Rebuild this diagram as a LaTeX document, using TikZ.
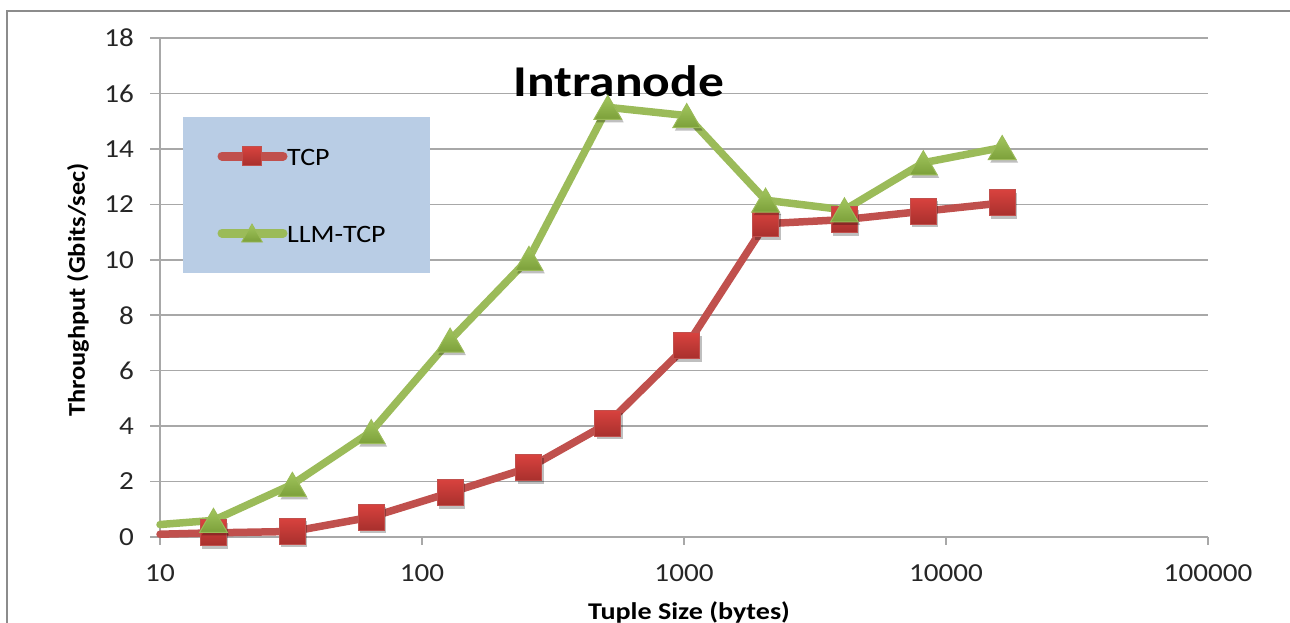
\documentclass[tikz,border=0pt]{standalone}
\usepackage{fontspec}
\setmainfont{Carlito}
\usepackage{graphicx}
\usetikzlibrary{shapes.geometric,shadows}
\definecolor{frame}{HTML}{8C8C8C}
\definecolor{gridc}{HTML}{A8A8A8}
\definecolor{tcpc}{HTML}{C0504D}
\definecolor{tcptop}{HTML}{D8423E}
\definecolor{tcpbot}{HTML}{A8302D}
\definecolor{llmc}{HTML}{9BBB59}
\definecolor{llmtop}{HTML}{A2C65E}
\definecolor{llmbot}{HTML}{7CA03A}
\definecolor{legbg}{HTML}{B9CDE5}
\newcommand{\widetxt}[1]{\scalebox{1.12}[1]{#1}}
\newcommand{\widertxt}[1]{\scalebox{1.17}[1]{#1}}
\tikzset{
  declare function={X(\e)=160+262*(\e-1); Y(\v)=537-27.722*\v;},
  gridline/.style={draw=gridc, line width=1.5pt},
  axisline/.style={draw=gridc, line width=1.5pt},
  tcpline/.style={draw=tcpc, line width=7.5pt, line join=round, line cap=round},
  llmline/.style={draw=llmc, line width=7.5pt, line join=round, line cap=round},
  mshadow/.style={drop shadow={shadow xshift=2pt, shadow yshift=-3pt, opacity=0.25, fill=black}},
  sqmark/.style={rectangle, minimum size=26pt, inner sep=0pt, top color=tcptop, bottom color=tcpbot, draw=tcpc, line width=1pt, mshadow},
  trimark/.style={regular polygon, regular polygon sides=3, minimum size=32pt, inner sep=0pt, yshift=-4pt, top color=llmtop, bottom color=llmbot, draw=llmc, line width=1pt, mshadow},
  sqleg/.style={rectangle, minimum size=19pt, inner sep=0pt, top color=tcptop, bottom color=tcpbot, draw=tcpc, line width=0.8pt},
  trileg/.style={regular polygon, regular polygon sides=3, minimum size=24pt, inner sep=0pt, yshift=-3pt, top color=llmtop, bottom color=llmbot, draw=llmc, line width=0.8pt},
  ticklab/.style={font=\fontsize{26}{30}\selectfont, text=black!85, inner sep=0pt},
  axtitle/.style={font=\fontsize{24}{27}\selectfont\bfseries, inner sep=0pt},
  legtext/.style={font=\fontsize{25}{30}\selectfont, anchor=west, inner sep=0pt},
}
\begin{document}
\begin{tikzpicture}[x=1pt,y=-1pt]
\useasboundingbox (0,0) rectangle (1290,623);
% outer frame
\draw[draw=frame, line width=2.5pt] (7,630) -- (7,11) -- (1300,11);
% gridlines
\foreach \k in {2,4,...,18} {
  \draw[gridline] (150,{Y(\k)}) -- (1208,{Y(\k)});
}
% axes
\draw[axisline] (150,{Y(0)}) -- (1208,{Y(0)});
\draw[axisline] (160,{Y(18)}) -- (160,545);
\foreach \e in {2,3,4,5} {
  \draw[axisline] ({X(\e)},{Y(0)}) -- ({X(\e)},545);
}
% y tick labels
\foreach \k in {0,2,...,18} {
  \node[ticklab, anchor=east] (yl\k) at (134,{Y(\k)}) {\widetxt{\k}};
}
% x tick labels
\foreach \e/\lab in {1/10,2/100,3/1000,4/10000,5/100000} {
  \node[ticklab] (xl\e) at ({X(\e)},573) {\widetxt{\lab}};
}
% axis titles
\node[axtitle, anchor=base] (xt) at (689,619) {\widertxt{Tuple Size (bytes)}};
\node[axtitle, rotate=90] (yt) at (78,290) {\scalebox{1.1}[1]{Throughput (Gbits/sec)}};
% title
\node[font=\fontsize{44}{50}\selectfont\bfseries, anchor=base, inner sep=0pt] (title) at (619,97) {\widertxt{Intranode}};
% data coordinates (x given as log10 of tuple size)
\foreach \n/\e/\t/\g in {0/1/0.1/0.45, 1/1.20412/0.15/0.6, 2/1.50515/0.2/1.9, 3/1.80618/0.72/3.8, 4/2.10721/1.6/7.1, 5/2.40824/2.5/10.05, 6/2.70927/4.1/15.5, 7/3.01030/6.9/15.2, 8/3.31133/11.3/12.15, 9/3.61236/11.45/11.8, 10/3.91339/11.75/13.5, 11/4.21442/12.05/14.05} {
  \coordinate (t\n) at ({X(\e)},{Y(\t)});
  \coordinate (g\n) at ({X(\e)},{Y(\g)});
}
% lines
\draw[llmline] (g0) -- (g1) -- (g2) -- (g3) -- (g4) -- (g5) -- (g6) -- (g7) -- (g8) -- (g9) -- (g10) -- (g11);
\draw[tcpline] (t0) -- (t1) -- (t2) -- (t3) -- (t4) -- (t5) -- (t6) -- (t7) -- (t8) -- (t9) -- (t10) -- (t11);
% markers
\foreach \n in {1,...,11} { \node[sqmark] (ts\n) at (t\n) {}; }
\foreach \n in {1,...,11} { \node[trimark] (gs\n) at (g\n) {}; }
% legend
\fill[legbg] (183,117) rectangle (430,273);
\coordinate (la) at (222,156); \coordinate (lb) at (283,156);
\coordinate (lc) at (222,233); \coordinate (ld) at (283,233);
\draw[draw=tcpc, line width=9pt, line cap=round] (la) -- (lb);
\node[sqleg] (lsq) at (252,156) {};
\node[legtext] (ltcp) at (287,157) {\widetxt{TCP}};
\draw[draw=llmc, line width=9pt, line cap=round] (lc) -- (ld);
\node[trileg] (ltri) at (252,233) {};
\node[legtext] (lllm) at (287,234) {\widetxt{LLM-TCP}};
\end{tikzpicture}
\end{document}
